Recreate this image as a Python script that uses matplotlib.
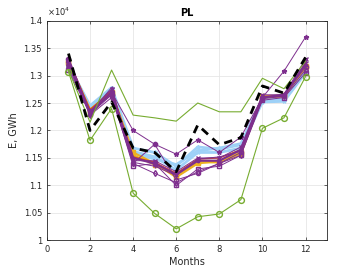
import matplotlib
matplotlib.use("Agg")
import matplotlib.pyplot as plt
import numpy as np

months = [1, 2, 3, 4, 5, 6, 7, 8, 9, 10, 11, 12]

# values in units of 1e4 GWh
black_dashed = [1.340, 1.200, 1.252, 1.168, 1.160, 1.125, 1.210, 1.174, 1.187, 1.281, 1.268, 1.333]
green_upper = [1.310, 1.215, 1.310, 1.228, 1.223, 1.217, 1.250, 1.234, 1.234, 1.295, 1.276, 1.326]
green_circle = [1.307, 1.182, 1.240, 1.086, 1.049, 1.021, 1.043, 1.048, 1.074, 1.204, 1.223, 1.298]

blue_1 = [1.320, 1.245, 1.278, 1.168, 1.160, 1.135, 1.170, 1.166, 1.174, 1.255, 1.256, 1.308]
blue_2 = [1.315, 1.240, 1.272, 1.162, 1.152, 1.128, 1.160, 1.160, 1.168, 1.252, 1.253, 1.305]
blue_3 = [1.318, 1.242, 1.275, 1.158, 1.148, 1.138, 1.163, 1.168, 1.176, 1.258, 1.258, 1.310]

orange_1 = [1.325, 1.238, 1.270, 1.160, 1.140, 1.115, 1.140, 1.145, 1.160, 1.260, 1.262, 1.315]
orange_2 = [1.322, 1.236, 1.268, 1.155, 1.138, 1.118, 1.142, 1.142, 1.158, 1.262, 1.264, 1.318]

purple_star = [1.325, 1.235, 1.270, 1.200, 1.175, 1.157, 1.183, 1.160, 1.188, 1.260, 1.308, 1.370]
purple_square = [1.310, 1.230, 1.265, 1.135, 1.140, 1.100, 1.130, 1.135, 1.155, 1.255, 1.260, 1.305]
purple_diamond = [1.320, 1.228, 1.260, 1.140, 1.122, 1.105, 1.125, 1.140, 1.155, 1.258, 1.262, 1.310]
purple_circle = [1.330, 1.235, 1.265, 1.140, 1.175, 1.110, 1.122, 1.140, 1.160, 1.260, 1.265, 1.315]
purple_plain = [1.330, 1.230, 1.270, 1.150, 1.140, 1.120, 1.145, 1.145, 1.165, 1.260, 1.265, 1.320]
purple_x = [1.320, 1.235, 1.275, 1.145, 1.145, 1.125, 1.150, 1.150, 1.170, 1.265, 1.265, 1.330]
purple_plus = [1.315, 1.232, 1.278, 1.142, 1.135, 1.118, 1.148, 1.152, 1.162, 1.262, 1.262, 1.325]
darkred = [1.328, 1.238, 1.272, 1.152, 1.142, 1.122, 1.148, 1.150, 1.165, 1.262, 1.262, 1.322]

purple = (0.494, 0.184, 0.556)
green = (0.466, 0.674, 0.188)
lblue = (0.62, 0.82, 0.97)
orange = (0.929, 0.694, 0.125)
red = (0.85, 0.325, 0.098)

fig = plt.figure(figsize=(3.61, 2.71), dpi=100)
ax = fig.add_axes([0.13, 0.113, 0.776, 0.811])

x = np.array(months)
for s in (blue_1, blue_2, blue_3):
    ax.plot(x, s, color=lblue, lw=2.0, marker='*', ms=3)
for s in (orange_1, orange_2):
    ax.plot(x, s, color=orange, lw=1.5, marker='s', ms=2.2)
ax.plot(x, darkred, color=red, lw=1.0)
ax.plot(x, purple_plain, color=purple, lw=1.6, marker='.', ms=3.5)
ax.plot(x, purple_x, color=purple, lw=0.7, marker='x', ms=2.5)
ax.plot(x, purple_plus, color=purple, lw=0.7, marker='+', ms=2.5)
ax.plot(x, purple_square, color=purple, lw=0.7, marker='s', ms=3, mfc='none')
ax.plot(x, purple_diamond, color=purple, lw=0.7, marker='d', ms=3, mfc='none')
ax.plot(x, purple_circle, color=purple, lw=0.7, marker='o', ms=3, mfc='none')
ax.plot(x, purple_star, color=purple, lw=0.7, marker='*', ms=3.5)
ax.plot(x, green_upper, color=green, lw=0.8)
ax.plot(x, green_circle, color=green, lw=0.8, marker='o', ms=4.2, mfc='none')
ax.plot(x, black_dashed, color='black', lw=2.0, ls=(0, (3, 2.2)))

ax.set_xlim(0, 13)
ax.set_ylim(1.0, 1.4)
ax.set_xticks([0, 2, 4, 6, 8, 10, 12])
ax.set_yticks([1.0, 1.05, 1.1, 1.15, 1.2, 1.25, 1.3, 1.35, 1.4])
ax.set_yticklabels(['1', '1.05', '1.1', '1.15', '1.2', '1.25', '1.3', '1.35', '1.4'])
ax.grid(True, color=(0.9, 0.9, 0.9), lw=0.6)
ax.set_axisbelow(True)
ax.tick_params(direction='in', length=2.5, width=0.5, labelsize=6, colors=(0.15, 0.15, 0.15), top=True, right=True)
for sp in ax.spines.values():
    sp.set_color((0.15, 0.15, 0.15))
    sp.set_linewidth(0.6)
ax.set_title('PL', fontsize=7, fontweight='bold', pad=3)
ax.set_xlabel('Months', fontsize=7, labelpad=2, color=(0.15, 0.15, 0.15))
ax.set_ylabel('E, GWh', fontsize=7, labelpad=3, color=(0.15, 0.15, 0.15))
ax.text(0.0, 1.01, r'$\times10^4$', transform=ax.transAxes, fontsize=6, ha='left', va='bottom', color=(0.15, 0.15, 0.15))

fig.savefig('out.png', dpi=100)
